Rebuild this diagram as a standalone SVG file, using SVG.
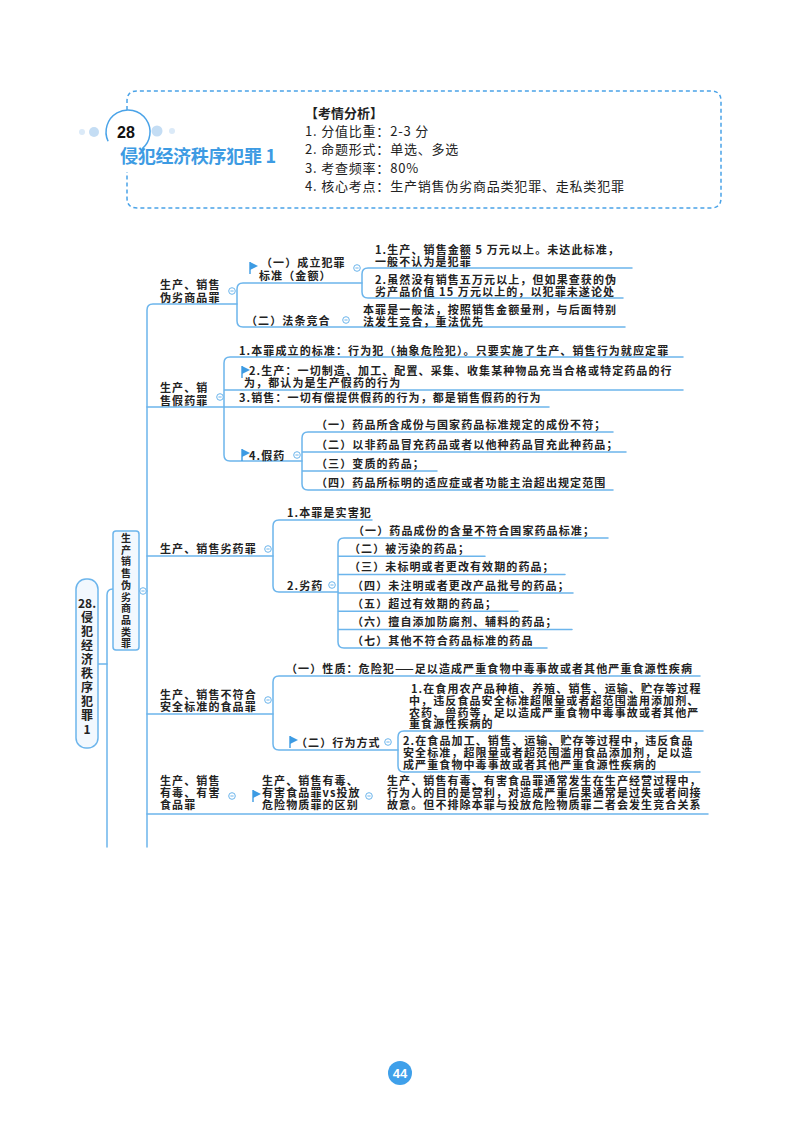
<svg xmlns="http://www.w3.org/2000/svg" width="800" height="1124" viewBox="0 0 800 1124">
<style>
.ln{fill:none;stroke:#6cb5ec;stroke-width:1.5;stroke-linecap:round}
.t{font-family:"Noto Sans CJK SC","Noto Sans",sans-serif;font-size:11px;font-weight:700;fill:#222;letter-spacing:1.1px}
.h{font-family:"Noto Sans CJK SC","Noto Sans",sans-serif;font-size:13px;fill:#222;letter-spacing:0.8px}
.hb{font-family:"Noto Sans CJK SC","Noto Sans",sans-serif;font-size:13px;font-weight:700;fill:#222}
.box{fill:#f2f8fe;stroke:#6cb5ec;stroke-width:1.5}
.v{font-family:"Noto Sans CJK SC","Noto Sans",sans-serif;font-weight:700;fill:#222;text-anchor:middle}
</style>
<defs>
<g id="c"><circle r="3.3" fill="#fff" stroke="#6cb5ec" stroke-width="1"/><line x1="-1.6" x2="1.6" y1="0" y2="0" stroke="#6cb5ec" stroke-width="1"/></g>
<g id="f"><path d="M-3,-6 L5,-2 L-3,2 Z" fill="#3d9be3"/><line x1="-3" y1="-6" x2="-3" y2="6" stroke="#3d9be3" stroke-width="1.4"/></g>
</defs>
<rect width="800" height="1124" fill="#fff"/>

<g id="header">
<path d="M127,110 V101 Q127,91 137,91 H711 Q721,91 721,101 V198 Q721,208 711,208 H137 Q127,208 127,198 V172" fill="none" stroke="#4aa3e8" stroke-width="1.5" stroke-dasharray="4 3"/>
<circle cx="82" cy="132" r="3" fill="#dbeaf8"/>
<circle cx="94" cy="132" r="5" fill="#c4ddf4"/>
<circle cx="157" cy="131" r="5.5" fill="#c4ddf4"/>
<circle cx="172" cy="131" r="3" fill="#dbeaf8"/>
<path d="M108.1,141.3 A22,22 0 1 1 142.1,148.9" fill="none" stroke="#4aa3e8" stroke-width="1.5"/>
<text x="126" y="138" text-anchor="middle" font-family="Liberation Sans, Arial, sans-serif" font-size="16" font-weight="700" fill="#111">28</text>
<text x="120" y="163" font-family="Noto Sans CJK SC, sans-serif" font-size="18" font-weight="700" fill="#3d9be3" letter-spacing="-0.3">侵犯经济秩序犯罪 1</text>
<text class="hb" x="305" y="118">【考情分析】</text>
<text class="h" x="305" y="136">1. 分值比重：2-3 分</text>
<text class="h" x="305" y="154">2. 命题形式：单选、多选</text>
<text class="h" x="305" y="173">3. 考查频率：80%</text>
<text class="h" x="305" y="191">4. 核心考点：生产销售伪劣商品类犯罪、走私类犯罪</text>
</g>

<g id="connectors">
<path class="ln" d="M98,664 H107"/>
<path class="ln" d="M113,589 Q107,589 107,595 V847"/>
<path class="ln" d="M139,591 H147"/>
<path class="ln" d="M237,304 H153 Q147,304 147,310 V847"/>
<path class="ln" d="M147,407 H224 M147,556 H273 M147,714 H273 M147,814 H708"/>
<path class="ln" d="M362,283 H243 Q237,283 237,289 V321 Q237,327 243,327 H625"/>
<path class="ln" d="M632,268 H368 Q362,268 362,274 V292 Q362,298 368,298 H623"/>
<path class="ln" d="M683,357 H230 Q224,357 224,363 V455 Q224,461 230,461 H302 M224,390 H683 M224,407 H549"/>
<path class="ln" d="M613,432 H308 Q302,432 302,438 V484 Q302,490 308,490 H613 M302,452 H626 M302,471 H437"/>
<path class="ln" d="M372,520 H279 Q273,520 273,526 V586 Q273,592 279,592 H338"/>
<path class="ln" d="M608,538 H344 Q338,538 338,544 V642 Q338,648 344,648 H547 M338,556.3 H485 M338,574.6 H565 M338,593 H573 M338,611.3 H518 M338,629.6 H572"/>
<path class="ln" d="M700,676 H279 Q273,676 273,682 V744 Q273,750 279,750 H398"/>
<path class="ln" d="M703,731 H404 Q398,731 398,737 V766 Q398,772 404,772 H700"/>
</g>

<g id="n-root">
<rect class="box" x="76" y="579" width="22" height="169" rx="10"/>
<text class="v" font-size="12">
<tspan x="87" y="608">28.</tspan><tspan x="87" dy="14">侵</tspan><tspan x="87" dy="14">犯</tspan><tspan x="87" dy="14">经</tspan><tspan x="87" dy="14">济</tspan><tspan x="87" dy="14">秩</tspan><tspan x="87" dy="14">序</tspan><tspan x="87" dy="14">犯</tspan><tspan x="87" dy="14">罪</tspan><tspan x="87" dy="14">1</tspan>
</text>
</g>

<g id="n-cat">
<rect class="box" x="113" y="531" width="26" height="119" rx="3"/>
<text class="v" font-size="10">
<tspan x="126" y="542">生</tspan><tspan x="126" dy="11.7">产</tspan><tspan x="126" dy="11.7">销</tspan><tspan x="126" dy="11.7">售</tspan><tspan x="126" dy="11.7">伪</tspan><tspan x="126" dy="11.7">劣</tspan><tspan x="126" dy="11.7">商</tspan><tspan x="126" dy="11.7">品</tspan><tspan x="126" dy="11.7">类</tspan><tspan x="126" dy="11.7">罪</tspan>
</text>
<use href="#c" x="143" y="591"/>
</g>

<g id="n-b1">
<text class="t" x="160" y="289">生产、销售</text>
<text class="t" x="160" y="301.5">伪劣商品罪</text>
<use href="#c" x="232" y="291"/>
</g>
<g id="n-b1-1">
<use href="#f" x="253" y="268"/>
<text class="t" x="261" y="267">（一）成立犯罪</text>
<text class="t" x="259" y="279.5">标准（金额）</text>
<use href="#c" x="357" y="268"/>
</g>
<g id="n-b1-1a">
<text class="t" x="375" y="253.5">1.生产、销售金额 5 万元以上。未达此标准，</text>
<text class="t" x="375" y="265.5">一般不认为是犯罪</text>
</g>
<g id="n-b1-1b">
<text class="t" x="375" y="284">2.虽然没有销售五万元以上，但如果查获的伪</text>
<text class="t" x="375" y="296">劣产品价值 15 万元以上的，以犯罪未遂论处</text>
</g>
<g id="n-b1-2">
<text class="t" x="246" y="324.5">（二）法条竞合</text>
<use href="#c" x="346" y="320"/>
</g>
<g id="n-b1-2a">
<text class="t" x="363" y="313.5">本罪是一般法，按照销售金额量刑，与后面特别</text>
<text class="t" x="363" y="325.5">法发生竞合，重法优先</text>
</g>

<g id="n-b2">
<text class="t" x="160" y="392">生产、销</text>
<text class="t" x="160" y="404.5">售假药罪</text>
<use href="#c" x="220" y="397"/>
</g>
<g id="n-b2-1"><text class="t" x="239" y="354.5">1.本罪成立的标准：行为犯（抽象危险犯）。只要实施了生产、销售行为就应定罪</text></g>
<g id="n-b2-2">
<use href="#f" x="245" y="372"/>
<text class="t" x="249" y="374.5">2.生产：一切制造、加工、配置、采集、收集某种物品充当合格或特定药品的行</text>
<text class="t" x="244" y="386.5">为，都认为是生产假药的行为</text>
</g>
<g id="n-b2-3"><text class="t" x="239" y="401.5">3.销售：一切有偿提供假药的行为，都是销售假药的行为</text></g>
<g id="n-b2-4">
<use href="#f" x="245" y="455"/>
<text class="t" x="249" y="459.5">4.假药</text>
<use href="#c" x="297" y="455"/>
</g>
<g id="n-b2-4a"><text class="t" x="316" y="428.5">（一）药品所含成份与国家药品标准规定的成份不符；</text></g>
<g id="n-b2-4b"><text class="t" x="316" y="448.5">（二）以非药品冒充药品或者以他种药品冒充此种药品；</text></g>
<g id="n-b2-4c"><text class="t" x="316" y="467.5">（三）变质的药品；</text></g>
<g id="n-b2-4d"><text class="t" x="316" y="486.5">（四）药品所标明的适应症或者功能主治超出规定范围</text></g>

<g id="n-b3">
<text class="t" x="160" y="552.5">生产、销售劣药罪</text>
<use href="#c" x="268" y="549"/>
</g>
<g id="n-b3-1"><text class="t" x="287" y="516.5">1.本罪是实害犯</text></g>
<g id="n-b3-2">
<text class="t" x="287" y="589.5">2.劣药</text>
<use href="#c" x="332" y="585"/>
</g>
<g id="n-b3-2a"><text class="t" x="353" y="534.5">（一）药品成份的含量不符合国家药品标准；</text></g>
<g id="n-b3-2b"><text class="t" x="349" y="552.8">（二）被污染的药品；</text></g>
<g id="n-b3-2c"><text class="t" x="349" y="571.1">（三）未标明或者更改有效期的药品；</text></g>
<g id="n-b3-2d"><text class="t" x="352" y="589.5">（四）未注明或者更改产品批号的药品；</text></g>
<g id="n-b3-2e"><text class="t" x="352" y="607.8">（五）超过有效期的药品；</text></g>
<g id="n-b3-2f"><text class="t" x="352" y="626.1">（六）擅自添加防腐剂、辅料的药品；</text></g>
<g id="n-b3-2g"><text class="t" x="352" y="644.5">（七）其他不符合药品标准的药品</text></g>

<g id="n-b4">
<text class="t" x="160" y="698.5">生产、销售不符合</text>
<text class="t" x="160" y="710.5">安全标准的食品罪</text>
<use href="#c" x="268" y="700"/>
</g>
<g id="n-b4-1"><text class="t" x="286" y="672.5">（一）性质：危险犯——足以造成严重食物中毒事故或者其他严重食源性疾病</text></g>
<g id="n-b4-2">
<use href="#f" x="293" y="742"/>
<text class="t" x="296" y="746.5">（二）行为方式</text>
<use href="#c" x="388" y="742"/>
</g>
<g id="n-b4-2a">
<text class="t" x="411" y="693">1.在食用农产品种植、养殖、销售、运输、贮存等过程</text>
<text class="t" x="409" y="704.8">中，违反食品安全标准超限量或者超范围滥用添加剂、</text>
<text class="t" x="409" y="716.6">农药、兽药等，足以造成严重食物中毒事故或者其他严</text>
<text class="t" x="409" y="728.4">重食源性疾病的</text>
</g>
<g id="n-b4-2b">
<text class="t" x="403" y="744.5">2.在食品加工、销售、运输、贮存等过程中，违反食品</text>
<text class="t" x="403" y="756.5">安全标准，超限量或者超范围滥用食品添加剂，足以造</text>
<text class="t" x="403" y="768.5">成严重食物中毒事故或者其他严重食源性疾病的</text>
</g>

<g id="n-b5">
<text class="t" x="160" y="785">生产、销售</text>
<text class="t" x="160" y="797">有毒、有害</text>
<text class="t" x="160" y="809">食品罪</text>
<use href="#c" x="232" y="796"/>
</g>
<g id="n-b5-1">
<use href="#f" x="256" y="796"/>
<text class="t" x="262" y="785">生产、销售有毒、</text>
<text class="t" x="262" y="797">有害食品罪vs投放</text>
<text class="t" x="262" y="809">危险物质罪的区别</text>
<use href="#c" x="369" y="796"/>
</g>
<g id="n-b5-1a">
<text class="t" x="387" y="785">生产、销售有毒、有害食品罪通常发生在生产经营过程中，</text>
<text class="t" x="387" y="797">行为人的目的是营利，对造成严重后果通常是过失或者间接</text>
<text class="t" x="387" y="809">故意。但不排除本罪与投放危险物质罪二者会发生竞合关系</text>
</g>

<g id="page">
<circle cx="400" cy="1073" r="12" fill="#3fa0ea"/>
<text x="400" y="1078" text-anchor="middle" font-family="Liberation Sans, Arial, sans-serif" font-size="13" font-weight="700" fill="#fff">44</text>
</g>
</svg>
